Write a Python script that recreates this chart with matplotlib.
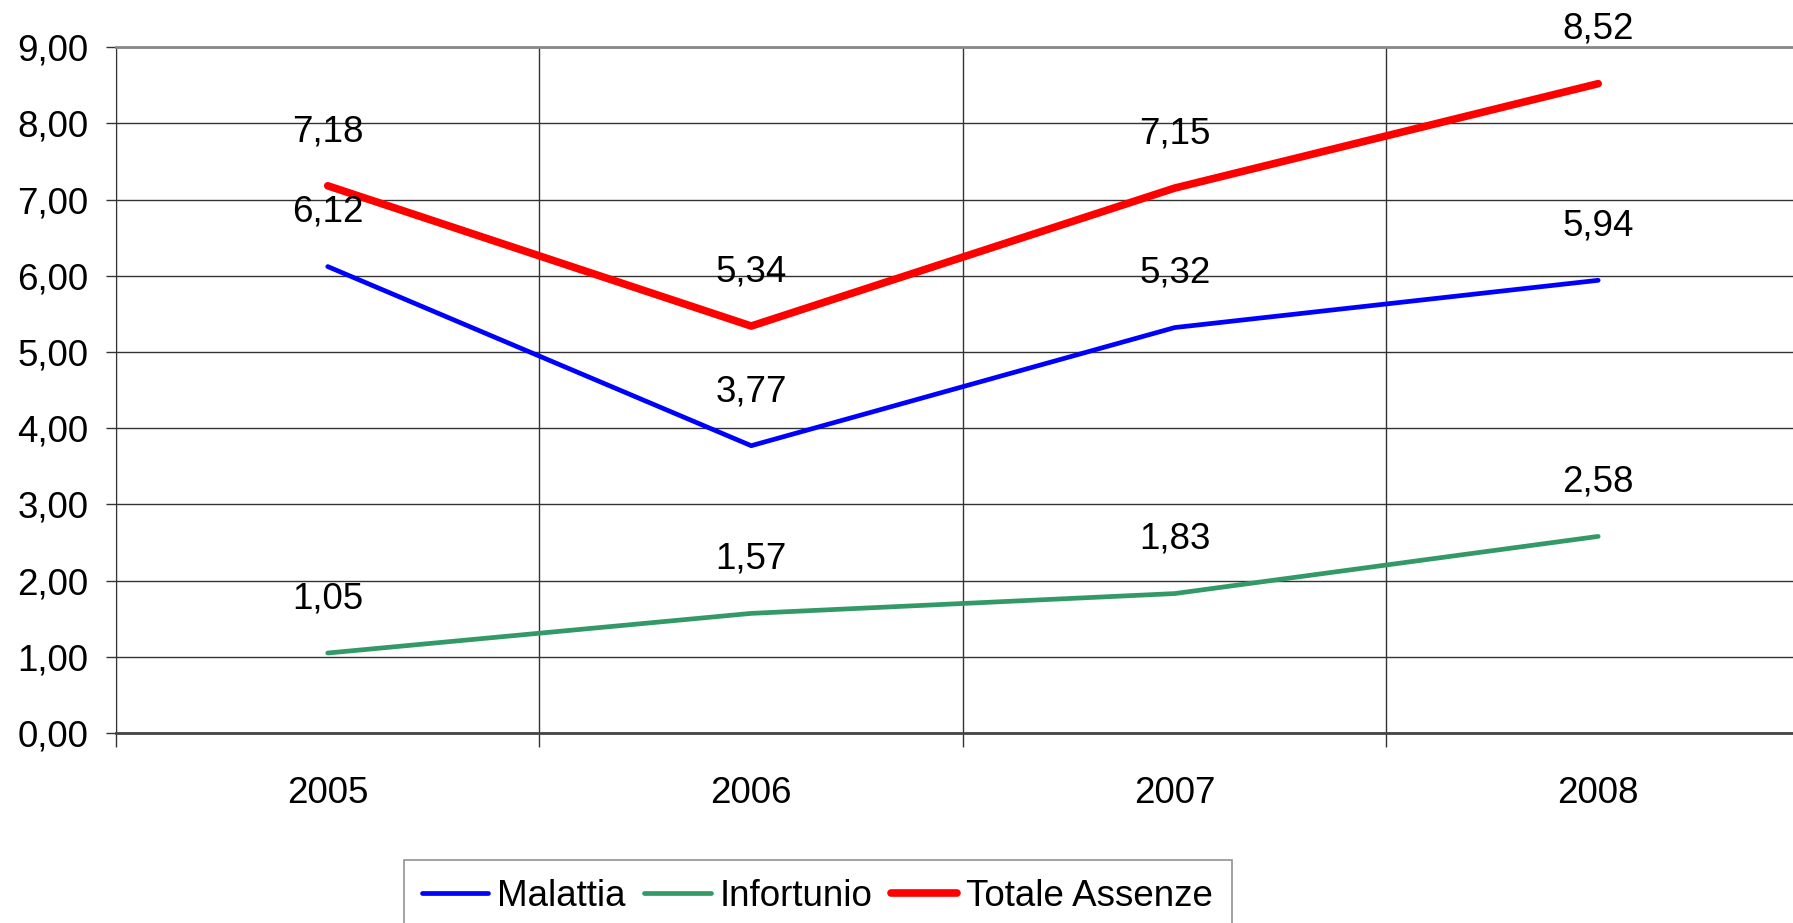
import matplotlib.pyplot as plt
from matplotlib.ticker import FixedLocator, FuncFormatter

years = ["2005", "2006", "2007", "2008"]
malattia = [6.12, 3.77, 5.32, 5.94]
infortunio = [1.05, 1.57, 1.83, 2.58]
totale = [7.18, 5.34, 7.15, 8.52]

plt.rcParams['font.family'] = ['Liberation Sans', 'DejaVu Sans']
FS = 26.5

fig = plt.figure(figsize=(17.93, 9.23), dpi=100)
ax = fig.add_axes([0.0647, 0.2058, 0.9353, 0.7432])

xs = [i + 0.5 for i in range(len(years))]
ax.plot(xs, malattia, color='#0000ff', lw=3.4, label='Malattia', solid_capstyle='round')
ax.plot(xs, infortunio, color='#339966', lw=3.4, label='Infortunio', solid_capstyle='round')
ax.plot(xs, totale, color='#ff0000', lw=5.5, label='Totale Assenze', solid_capstyle='round')

for series in (malattia, infortunio, totale):
    for x, v in zip(xs, series):
        ax.annotate(f"{v:.2f}".replace('.', ','), (x, v), xytext=(0, 39),
                    textcoords='offset points', ha='center', va='center', fontsize=FS)

ax.set_ylim(0, 9)
ax.set_xlim(0, 3.96)
ax.set_yticks(range(0, 10))
ax.yaxis.set_major_formatter(FuncFormatter(lambda v, p: f"{v:.2f}".replace('.', ',')))
ax.tick_params(axis='y', labelsize=FS, length=7, width=1, color='#333333', pad=13)

ax.xaxis.set_major_locator(FixedLocator([0, 1, 2, 3]))
ax.xaxis.set_minor_locator(FixedLocator(xs))
ax.set_xticklabels([], minor=False)
ax.set_xticklabels(years, minor=True)
ax.tick_params(axis='x', which='major', length=10, width=1, color='#333333')
ax.tick_params(axis='x', which='minor', length=0, labelsize=FS, pad=31)

ax.grid(True, which='major', color='#333333', lw=1)
ax.set_axisbelow(True)
ax.spines['right'].set_visible(False)
ax.spines['top'].set_color('#888888')
ax.spines['top'].set_linewidth(2)
ax.spines['left'].set_color('#333333')
ax.spines['bottom'].set_color('#444444')
ax.spines['bottom'].set_linewidth(2)

leg = fig.legend(loc='upper center', bbox_to_anchor=(0.456, 0.068), ncol=3, fontsize=FS,
                 frameon=True, fancybox=False, edgecolor='#777777', handlelength=1.8,
                 handletextpad=0.25, columnspacing=0.5, borderpad=0.5, borderaxespad=0)
leg.get_frame().set_linewidth(1.2)

fig.savefig('out.png', dpi=100)
